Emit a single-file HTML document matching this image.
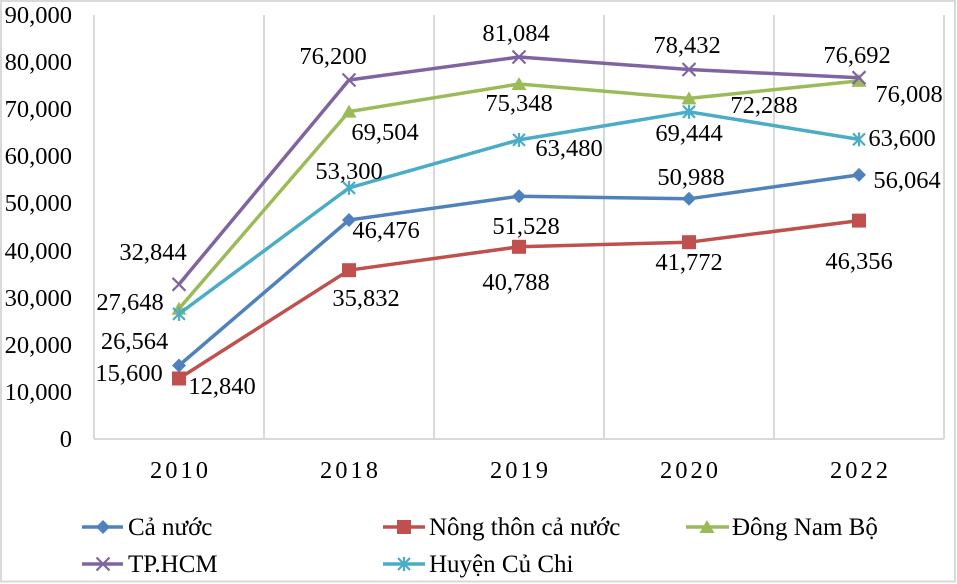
<!DOCTYPE html>
<html><head><meta charset="utf-8"><style>
html,body{margin:0;padding:0;background:#fff;}
svg{display:block;}
.t{font-family:"Liberation Serif","Times New Roman",Times,"Noto Serif CJK SC","Noto Serif CJK JP","DejaVu Serif",serif;fill:#000;}
</style></head><body>
<svg width="957" height="584" viewBox="0 0 957 584" xmlns="http://www.w3.org/2000/svg">
<rect x="0" y="0" width="957" height="584" fill="#fff"/>
<rect x="1" y="1" width="954" height="580.5" fill="none" stroke="#d9d9d9" stroke-width="2"/>
<g stroke="#d9d9d9" stroke-width="2">
<line x1="94" y1="15" x2="94" y2="439"/>
<line x1="264" y1="15" x2="264" y2="439"/>
<line x1="434" y1="15" x2="434" y2="439"/>
<line x1="604" y1="15" x2="604" y2="439"/>
<line x1="774" y1="15" x2="774" y2="439"/>
<line x1="944" y1="15" x2="944" y2="439"/>
<line x1="94" y1="439" x2="944" y2="439"/>
</g>
<g class="t" font-size="24.5" text-anchor="end">
<text class="t" x="72" y="23">90,000</text>
<text class="t" x="72" y="70">80,000</text>
<text class="t" x="72" y="117">70,000</text>
<text class="t" x="72" y="164">60,000</text>
<text class="t" x="72" y="211">50,000</text>
<text class="t" x="72" y="259">40,000</text>
<text class="t" x="72" y="306">30,000</text>
<text class="t" x="72" y="353">20,000</text>
<text class="t" x="72" y="400">10,000</text>
<text class="t" x="72" y="447">0</text>
</g>
<g class="t" font-size="24.5" text-anchor="middle" letter-spacing="3">
<text class="t" x="180.5" y="478">2010</text>
<text class="t" x="350.5" y="478">2018</text>
<text class="t" x="520.5" y="478">2019</text>
<text class="t" x="690.5" y="478">2020</text>
<text class="t" x="860.5" y="478">2022</text>
</g>
<defs>
<path id="dia" d="M0,-7 L7,0 L0,7 L-7,0 Z" fill="#4f81bd"/>
<rect id="sq" x="-7" y="-7" width="14" height="14" fill="#c0504d"/>
<path id="tri" d="M0,-7 L7.5,6 L-7.5,6 Z" fill="#9bbb59"/>
<g id="xm" stroke="#8064a2" stroke-width="2.2"><line x1="-6.5" y1="-6.5" x2="6.5" y2="6.5"/><line x1="-6.5" y1="6.5" x2="6.5" y2="-6.5"/></g>
<g id="ast" stroke="#4bacc6" stroke-width="2.2"><line x1="-6" y1="-6" x2="6" y2="6"/><line x1="-6" y1="6" x2="6" y2="-6"/><line x1="0" y1="-7" x2="0" y2="7"/></g>
</defs>
<polyline fill="none" stroke-width="3.5" stroke-linejoin="round" stroke="#4f81bd" points="179,365.5 349,220 519,196.2 689,198.8 859,174.9"/>
<use href="#dia" x="179" y="365.5"/><use href="#dia" x="349" y="220"/><use href="#dia" x="519" y="196.2"/><use href="#dia" x="689" y="198.8"/><use href="#dia" x="859" y="174.9"/>
<polyline fill="none" stroke-width="3.5" stroke-linejoin="round" stroke="#c0504d" points="179,378.5 349,270.2 519,246.8 689,242.2 859,220.6"/>
<use href="#sq" x="179" y="378.5"/><use href="#sq" x="349" y="270.2"/><use href="#sq" x="519" y="246.8"/><use href="#sq" x="689" y="242.2"/><use href="#sq" x="859" y="220.6"/>
<polyline fill="none" stroke-width="3.5" stroke-linejoin="round" stroke="#9bbb59" points="179,308.7 349,111.6 519,84 689,98.4 859,80.9"/>
<use href="#tri" x="179" y="308.7"/><use href="#tri" x="349" y="111.6"/><use href="#tri" x="519" y="84"/><use href="#tri" x="689" y="98.4"/><use href="#tri" x="859" y="80.9"/>
<polyline fill="none" stroke-width="3.5" stroke-linejoin="round" stroke="#8064a2" points="179,284.3 349,80 519,57 689,69.5 859,77.7"/>
<use href="#xm" x="179" y="284.3"/><use href="#xm" x="349" y="80"/><use href="#xm" x="519" y="57"/><use href="#xm" x="689" y="69.5"/><use href="#xm" x="859" y="77.7"/>
<polyline fill="none" stroke-width="3.5" stroke-linejoin="round" stroke="#4bacc6" points="179,313.9 349,187.9 519,139.9 689,111.8 859,139.4"/>
<use href="#ast" x="179" y="313.9"/><use href="#ast" x="349" y="187.9"/><use href="#ast" x="519" y="139.9"/><use href="#ast" x="689" y="111.8"/><use href="#ast" x="859" y="139.4"/>
<g class="t" font-size="24.5" text-anchor="middle">
<text class="t" x="153" y="260">32,844</text>
<text class="t" x="130" y="310">27,648</text>
<text class="t" x="134.5" y="349">26,564</text>
<text class="t" x="129" y="381">15,600</text>
<text class="t" x="222" y="394">12,840</text>
<text class="t" x="333" y="64">76,200</text>
<text class="t" x="385" y="140">69,504</text>
<text class="t" x="349" y="179">53,300</text>
<text class="t" x="386" y="238">46,476</text>
<text class="t" x="366" y="306">35,832</text>
<text class="t" x="516" y="41">81,084</text>
<text class="t" x="519" y="111">75,348</text>
<text class="t" x="569" y="156">63,480</text>
<text class="t" x="526" y="234">51,528</text>
<text class="t" x="516" y="290">40,788</text>
<text class="t" x="687" y="53">78,432</text>
<text class="t" x="764" y="113">72,288</text>
<text class="t" x="689" y="141">69,444</text>
<text class="t" x="691" y="185">50,988</text>
<text class="t" x="689" y="270">41,772</text>
<text class="t" x="857" y="63">76,692</text>
<text class="t" x="909" y="102">76,008</text>
<text class="t" x="902" y="146">63,600</text>
<text class="t" x="907" y="188">56,064</text>
<text class="t" x="859" y="269">46,356</text>
</g>
<g stroke-width="3.5" fill="none">
<line x1="82" y1="527" x2="123" y2="527" stroke="#4f81bd"/>
<line x1="383" y1="527" x2="425" y2="527" stroke="#c0504d"/>
<line x1="686" y1="527" x2="729" y2="527" stroke="#9bbb59"/>
<line x1="82" y1="564" x2="123" y2="564" stroke="#8064a2"/>
<line x1="383" y1="564" x2="425" y2="564" stroke="#4bacc6"/>
</g>
<use href="#dia" x="103" y="527"/>
<use href="#sq" x="404" y="527"/>
<use href="#tri" x="707" y="527"/>
<use href="#xm" x="103" y="564"/>
<use href="#ast" x="404" y="564"/>
<g class="t" font-size="25">
<text class="t" x="128" y="535">Cả nước</text>
<text class="t" x="429" y="535">Nông thôn cả nước</text>
<text class="t" x="732" y="535">Đông Nam Bộ</text>
<text class="t" x="128" y="572">TP.HCM</text>
<text class="t" x="429" y="572">Huyện Củ Chi</text>
</g>
</svg>
</body></html>
